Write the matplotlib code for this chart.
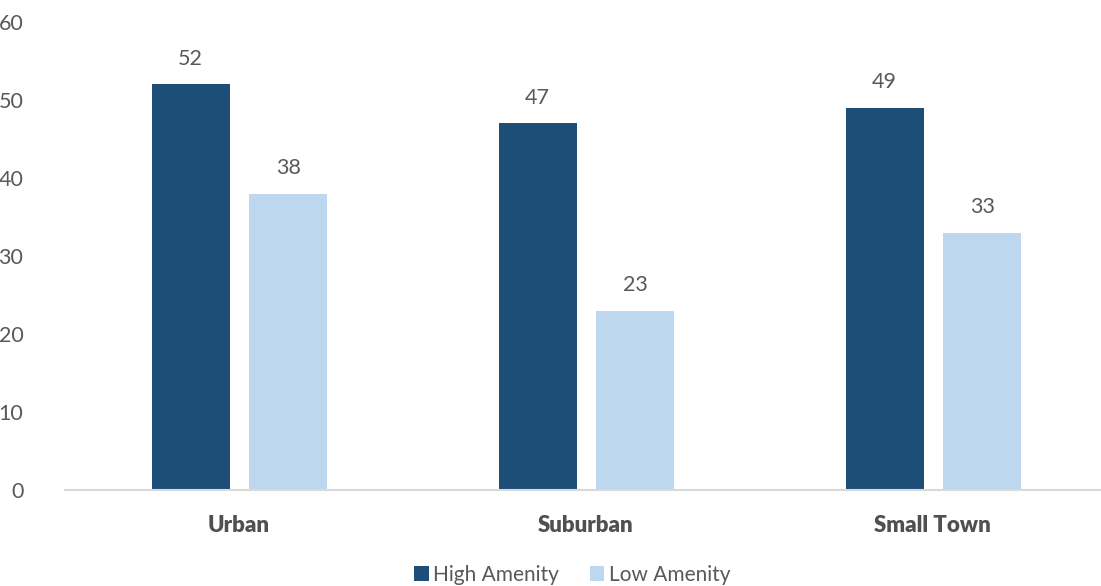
import matplotlib
matplotlib.use("Agg")
import matplotlib.pyplot as plt
import numpy as np

categories = ["Urban", "Suburban", "Small Town"]
high_amenity = [52, 47, 49]
low_amenity = [38, 23, 33]
series_names = ["High Amenity", "Low Amenity"]
yticks = [0, 10, 20, 30, 40, 50, 60]

dark = "#1C4E78"
light = "#BDD7EE"
gray = "#595959"

fig = plt.figure(figsize=(11.01, 5.86), dpi=100)
ax = fig.add_axes([65/1101, 96/586, 1041/1101, 468/586])

x = np.arange(len(categories))
w = 0.225
off = 0.143
b1 = ax.bar(x - off + 0.005, high_amenity, w, color=dark, label=series_names[0])
b2 = ax.bar(x + off, low_amenity, w, color=light, label=series_names[1])

for bars, vals in ((b1, high_amenity), (b2, low_amenity)):
    for r, v in zip(bars, vals):
        ax.text(r.get_x() + r.get_width()/2, v + 3.3, f"{v}", ha="center", va="center",
                fontsize=15.5, color=gray, family="Lato")

ax.set_xlim(-0.5, 2.5)
ax.set_ylim(0, 60)
ax.set_yticks(yticks)
ax.set_yticklabels([str(t) for t in yticks], fontsize=15.5, color=gray, family="Lato")
ax.set_xticks(x)
ax.set_xticklabels(categories, fontsize=16, color="#505050", fontweight="heavy", family="Lato")
ax.tick_params(axis="both", length=0)
ax.tick_params(axis="y", pad=30)
ax.tick_params(axis="x", pad=18)
for s in ["top", "right", "left"]:
    ax.spines[s].set_visible(False)
ax.spines["bottom"].set_color("#D9D9D9")
ax.spines["bottom"].set_linewidth(1.5)

leg = fig.legend(handles=[b1, b2], labels=series_names, loc="center", bbox_to_anchor=(572/1101, 1 - 575/586),
                 ncol=2, frameon=False, handlelength=0.7, handleheight=0.7, handletextpad=0.2,
                 columnspacing=1.5, prop={"family": "Lato", "size": 15})
for t in leg.get_texts():
    t.set_color(gray)

fig.savefig("out.png", dpi=100)
